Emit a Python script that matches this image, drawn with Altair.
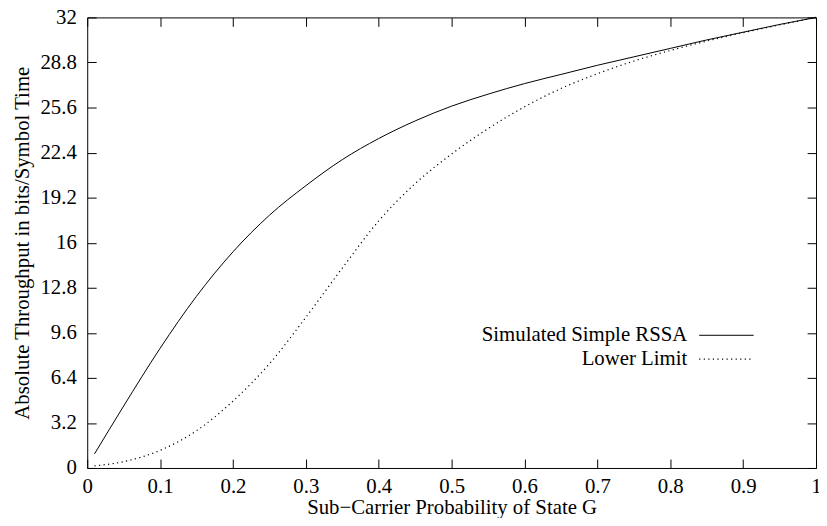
import altair as alt
import pandas as pd

# ---- data ----
p_vals = [0.01, 0.05, 0.10, 0.15, 0.20, 0.25, 0.30, 0.35, 0.40, 0.45, 0.50,
          0.55, 0.60, 0.65, 0.70, 0.75, 0.80, 0.85, 0.90, 0.95, 1.00]
simulated = [1.0, 4.4, 8.5, 12.2, 15.35, 17.95, 20.05, 21.9, 23.4, 24.65, 25.7,
             26.55, 27.3, 27.95, 28.6, 29.2, 29.8, 30.4, 30.95, 31.5, 32.0]
lower_limit = [0.15, 0.45, 1.25, 2.65, 4.75, 7.4, 10.7, 14.2, 17.55, 20.2, 22.3,
               24.1, 25.65, 26.95, 28.0, 28.9, 29.65, 30.32, 30.92, 31.47, 32.0]

x_ticks = [0, 0.1, 0.2, 0.3, 0.4, 0.5, 0.6, 0.7, 0.8, 0.9, 1]
y_ticks = [0, 3.2, 6.4, 9.6, 12.8, 16, 19.2, 22.4, 25.6, 28.8, 32]

series_names = ["Simulated Simple RSSA", "Lower Limit"]

sim_df = pd.DataFrame({"p": p_vals, "v": simulated})
low_df = pd.DataFrame({"p": p_vals, "v": lower_limit})

FONT = "Liberation Serif"
FS = 21
TICK = 9
DASH = [1.2, 3.4]

xscale = alt.Scale(domain=[0, 1], nice=False, zero=False)
yscale = alt.Scale(domain=[0, 32], nice=False)

x_bottom = alt.Axis(orient="bottom", values=x_ticks, format=".1~f", tickSize=TICK,
                    offset=-TICK, domain=False, grid=False, labelPadding=8,
                    title="Sub\u2212Carrier Probability of State G", titlePadding=0)
y_left = alt.Axis(orient="left", values=y_ticks, format=".1~f", tickSize=TICK,
                  offset=-TICK, domain=False, grid=False, labelPadding=11,
                  title="Absolute Throughput in bits/Symbol Time", titlePadding=8)
x_top = alt.Axis(orient="top", values=x_ticks, tickSize=TICK, offset=-TICK,
                 domain=False, grid=False, labels=False, title=None)
y_right = alt.Axis(orient="right", values=y_ticks, tickSize=TICK, offset=-TICK,
                   domain=False, grid=False, labels=False, title=None)

sim_line = alt.Chart(sim_df).mark_line(color="black", strokeWidth=1, interpolate="monotone").encode(
    x=alt.X("p:Q", scale=xscale, axis=x_bottom),
    y=alt.Y("v:Q", scale=yscale, axis=y_left),
)
low_line = alt.Chart(low_df).mark_line(color="black", strokeWidth=1.2, strokeDash=DASH,
                                       interpolate="monotone").encode(
    x=alt.X("p:Q", scale=xscale, axis=None),
    y=alt.Y("v:Q", scale=yscale, axis=None),
)
mirror = alt.Chart(sim_df).mark_line(opacity=0).encode(
    x=alt.X("p:Q", scale=xscale, axis=x_top),
    y=alt.Y("v:Q", scale=yscale, axis=y_right),
)

# ---- in-plot key (gnuplot style: text then sample) ----
KX, KY1, KY2 = 606, 321, 345
leg_t1 = alt.Chart().mark_text(align="right", baseline="middle", font=FONT, fontSize=FS,
                               color="black", text=series_names[0]).encode(
    x=alt.value(KX), y=alt.value(KY1))
leg_t2 = alt.Chart().mark_text(align="right", baseline="middle", font=FONT, fontSize=FS,
                               color="black", text=series_names[1]).encode(
    x=alt.value(KX), y=alt.value(KY2))
leg_r1 = alt.Chart().mark_rule(color="black", strokeWidth=1).encode(
    x=alt.value(KX + 12), x2=alt.value(KX + 67), y=alt.value(KY1))
leg_r2 = alt.Chart().mark_rule(color="black", strokeWidth=1.2, strokeDash=DASH).encode(
    x=alt.value(KX + 12), x2=alt.value(KX + 67), y=alt.value(KY2))

chart = alt.layer(sim_line, low_line, mirror, leg_t1, leg_t2, leg_r1, leg_r2).resolve_axis(
    x="independent", y="independent"
).properties(
    width=736, height=455,
    autosize=alt.AutoSizeParams(type="none"),
    padding={"left": 80, "top": 7, "right": 3, "bottom": 48},
    background="white",
).configure_view(
    stroke="black", strokeWidth=1
).configure_axis(
    labelFont=FONT, titleFont=FONT, labelFontSize=FS, titleFontSize=FS,
    labelColor="black", titleColor="black", tickColor="black", tickWidth=1,
    titleFontWeight="normal", labelFlush=False, labelOverlap=False,
)

chart.save("out.html", embed_options={"renderer": "svg", "actions": False})
